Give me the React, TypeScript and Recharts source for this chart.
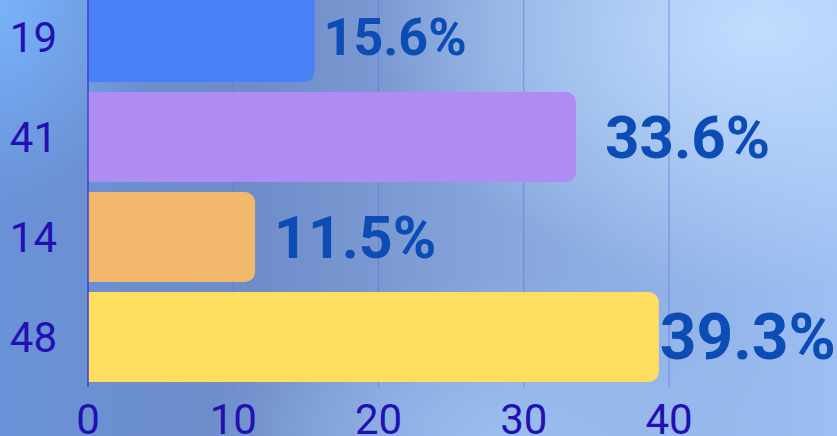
import React from "react";
import { BarChart, Bar, XAxis, YAxis, CartesianGrid, Cell, LabelList } from "recharts";

const counts = [19, 41, 14, 48];
const shares = [15.6, 33.6, 11.5, 39.3];
const colors = ["#4a80f6", "#ae8cf3", "#f2b96d", "#ffdd5e"];
const xTicks = [0, 10, 20, 30, 40];

// label sizes/offsets vary per bar in the original
const labelSizes = [52, 60, 59, 64];
const labelOffsets = [9, 29, 19, 1];

const data = counts.map((c, i) => ({ name: String(c), share: shares[i] }));

function ShareLabel(props: any) {
  const { x, y, width, height, value, index } = props;
  const i = typeof index === "number" ? index : shares.indexOf(value);
  return (
    <text
      x={Number(x) + Number(width) + labelOffsets[i]}
      y={Number(y) + Number(height) / 2}
      dominantBaseline="central"
      fill="#0b4db4"
      fontSize={labelSizes[i]}
      fontWeight={700}
      fontFamily="Roboto"
    >
      {value}%
    </text>
  );
}

export default function App() {
  return (
    <div
      style={{
        position: "absolute",
        left: 0,
        top: 0,
        width: 837,
        height: 436,
        overflow: "hidden",
        fontFamily: "Roboto",
        background:
          "radial-gradient(ellipse 380px 260px at 760px 30px, rgba(196,222,255,0.95), rgba(196,222,255,0) 100%)," +
          "radial-gradient(ellipse 160px 200px at 0px 0px, rgba(122,182,255,0.9), rgba(122,182,255,0) 100%)," +
          "radial-gradient(ellipse 300px 160px at 500px 436px, rgba(160,196,245,0.8), rgba(160,196,245,0) 100%)," +
          "linear-gradient(90deg, #6a92d8 0%, #6e8cc8 30%, #86a6dc 60%, #9cbef2 100%)",
      }}
    >
      <div style={{ position: "absolute", left: 0, top: -13 }}>
        <BarChart
          width={837}
          height={450}
          data={data}
          layout="vertical"
          margin={{ top: 0, right: 168, bottom: 0, left: 0 }}
          barCategoryGap={5}
        >
          <CartesianGrid horizontal={false} stroke="#6c72d8" strokeOpacity={0.7} />
          <XAxis
            type="number"
            domain={[0, 40]}
            ticks={xTicks}
            height={50}
            axisLine={false}
            tickLine={false}
            tickMargin={11}
            tick={{ fill: "#2310b3", fontSize: 42, fontFamily: "Roboto" }}
          />
          <YAxis
            type="category"
            dataKey="name"
            width={88}
            axisLine={{ stroke: "#3b44d0", strokeWidth: 1.5 }}
            tickLine={false}
            tickMargin={25}
            tick={{ fill: "#2310b3", fontSize: 42, fontFamily: "Roboto" }}
          />
          <Bar dataKey="share" radius={[0, 10, 10, 0]} isAnimationActive={false}>
            {data.map((d, i) => (
              <Cell key={d.name} fill={colors[i]} />
            ))}
            <LabelList dataKey="share" content={<ShareLabel />} />
          </Bar>
        </BarChart>
      </div>
    </div>
  );
}
